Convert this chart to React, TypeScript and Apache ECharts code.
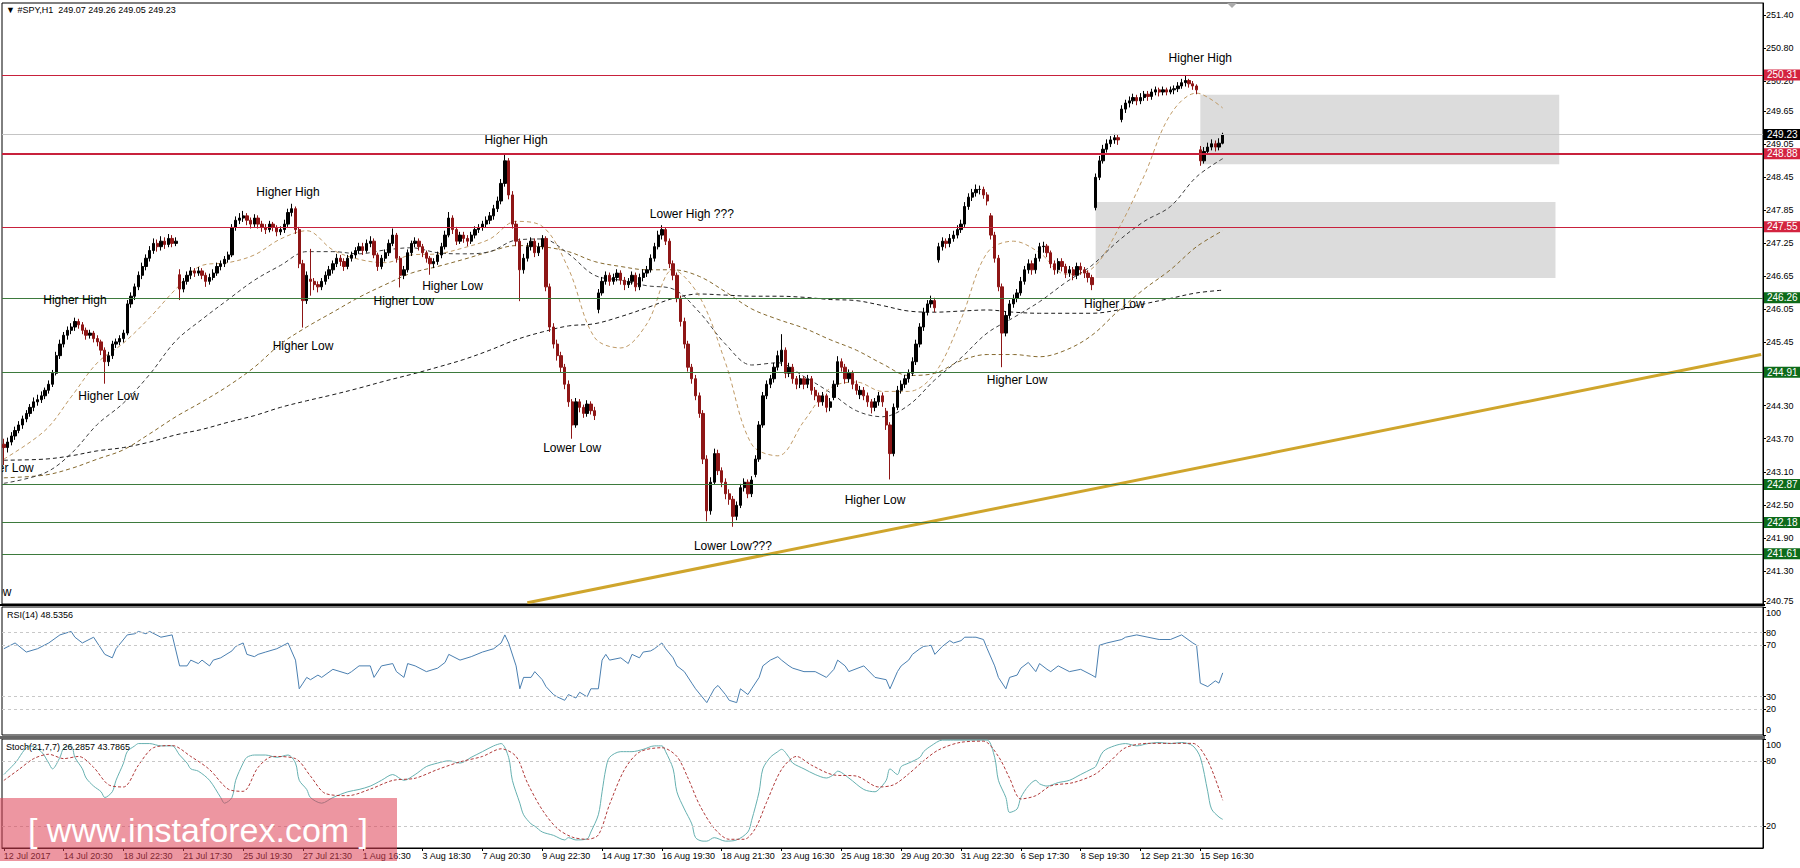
import React, { useEffect, useRef } from 'react';
import * as echarts from 'echarts';

// ---------- DATA ----------
// H1 candles [open, close, low, high], 12 Jul 18:30 .. 15 Sep 22:30 (7 bars/session)
const candles: number[][] = [
  // 12 Jul
  [243.60,243.54,243.22,243.70],[243.54,243.64,243.45,243.72],[243.64,243.75,243.58,243.82],[243.75,243.85,243.68,243.92],[243.85,243.95,243.80,244.02],
  // 13 Jul
  [243.95,244.06,243.88,244.12],[244.06,244.16,244.00,244.22],[244.16,244.27,244.10,244.33],[244.27,244.37,244.20,244.45],[244.37,244.41,244.30,244.50],[244.41,244.48,244.35,244.56],[244.48,244.58,244.42,244.63],
  // 14 Jul
  [244.58,244.69,244.52,244.76],[244.69,244.89,244.64,244.95],[244.89,245.21,244.85,245.28],[245.21,245.42,245.15,245.50],[245.42,245.58,245.36,245.64],[245.58,245.67,245.50,245.74],[245.67,245.73,245.60,245.80],
  // 17 Jul
  [245.73,245.83,245.66,245.90],[245.83,245.77,245.70,245.88],[245.77,245.67,245.60,245.82],[245.67,245.58,245.50,245.72],[245.58,245.62,245.52,245.68],[245.62,245.52,245.45,245.66],[245.52,245.46,245.38,245.58],
  // 18 Jul
  [245.46,245.31,245.22,245.50],[245.31,245.10,244.70,245.36],[245.10,245.21,245.02,245.28],[245.21,245.42,245.15,245.48],[245.42,245.46,245.35,245.52],[245.46,245.52,245.40,245.58],[245.52,245.62,245.45,245.68],
  // 19 Jul
  [245.62,246.15,245.58,246.22],[246.15,246.29,246.08,246.36],[246.29,246.46,246.22,246.52],[246.46,246.67,246.40,246.74],[246.67,246.83,246.60,246.90],[246.83,246.98,246.76,247.05],[246.98,247.12,246.92,247.20],
  // 20 Jul
  [247.12,247.25,247.06,247.34],[247.25,247.19,247.10,247.32],[247.19,247.29,247.12,247.38],[247.29,247.23,247.15,247.36],[247.23,247.34,247.18,247.42],[247.34,247.25,247.18,247.40],[247.25,247.29,247.20,247.36],
  // 21 Jul
  [246.68,246.42,246.22,246.78],[246.42,246.56,246.36,246.62],[246.56,246.67,246.50,246.74],[246.67,246.75,246.60,246.82],[246.75,246.71,246.64,246.80],[246.71,246.75,246.66,246.82],[246.75,246.67,246.60,246.80],
  // 24 Jul
  [246.67,246.56,246.46,246.72],[246.56,246.63,246.50,246.70],[246.63,246.71,246.58,246.78],[246.71,246.83,246.66,246.90],[246.83,246.88,246.76,246.94],[246.88,246.96,246.82,247.02],[246.96,247.04,246.90,247.10],
  // 25 Jul
  [247.04,247.54,247.00,247.60],[247.54,247.67,247.48,247.74],[247.67,247.71,247.60,247.80],[247.71,247.75,247.64,247.84],[247.75,247.67,247.58,247.80],[247.67,247.60,247.52,247.72],[247.60,247.71,247.55,247.78],
  // 26 Jul
  [247.71,247.60,247.52,247.76],[247.60,247.54,247.46,247.66],[247.54,247.50,247.42,247.60],[247.50,247.60,247.45,247.66],[247.60,247.54,247.47,247.64],[247.54,247.46,247.38,247.58],[247.46,247.50,247.40,247.56],
  // 27 Jul
  [247.50,247.60,247.44,247.68],[247.60,247.81,247.55,247.88],[247.81,247.88,247.74,247.97],[247.88,247.50,247.42,247.92],[247.50,246.88,246.80,247.55],[246.88,246.21,245.72,246.95],[246.21,246.67,246.15,246.74],
  // 28 Jul
  [246.60,246.56,246.30,247.15],[246.56,246.50,246.40,246.62],[246.50,246.46,246.36,246.56],[246.46,246.56,246.40,246.62],[246.56,246.67,246.50,246.74],[246.67,246.77,246.60,246.84],[246.77,246.88,246.70,246.94],
  // 31 Jul
  [246.88,246.98,246.82,247.06],[246.98,246.92,246.84,247.04],[246.92,246.83,246.75,246.98],[246.83,246.98,246.78,247.04],[246.98,247.04,246.92,247.10],[247.04,247.12,246.98,247.18],[247.12,247.19,247.06,247.26],
  // 1 Aug
  [247.19,247.12,247.04,247.26],[247.12,247.25,247.08,247.32],[247.25,247.29,247.18,247.38],[247.29,247.04,246.98,247.34],[247.04,246.83,246.75,247.08],[246.83,246.98,246.78,247.04],[246.98,247.08,246.92,247.14],
  // 2 Aug
  [247.08,247.25,247.02,247.32],[247.25,247.40,247.20,247.52],[247.40,246.98,246.90,247.44],[246.98,246.67,246.45,247.02],[246.67,246.77,246.60,246.84],[246.77,247.08,246.72,247.14],[247.08,247.25,247.02,247.30],
  // 3 Aug
  [247.25,247.29,247.18,247.36],[247.29,247.19,247.12,247.34],[247.19,247.08,247.00,247.24],[247.08,246.98,246.90,247.12],[246.98,246.88,246.68,247.02],[246.88,246.92,246.80,246.98],[246.92,247.04,246.86,247.10],
  // 4 Aug
  [247.04,247.19,246.98,247.26],[247.19,247.40,247.14,247.48],[247.40,247.71,247.36,247.82],[247.71,247.50,247.42,247.76],[247.50,247.29,247.22,247.55],[247.29,247.40,247.24,247.46],[247.40,247.34,247.26,247.46],
  // 7 Aug
  [247.34,247.29,247.20,247.40],[247.29,247.40,247.24,247.46],[247.40,247.50,247.34,247.56],[247.50,247.54,247.44,247.60],[247.54,247.60,247.48,247.66],[247.60,247.67,247.54,247.74],[247.67,247.75,247.60,247.82],
  // 8 Aug
  [247.75,247.88,247.68,247.95],[247.88,248.02,247.82,248.10],[248.02,248.34,247.96,248.42],[248.34,248.75,248.28,248.88],[248.75,248.13,248.05,248.80],[248.13,247.60,247.52,248.20],[247.60,247.29,247.20,247.66],
  // 9 Aug
  [247.29,246.77,246.20,247.34],[246.77,246.98,246.70,247.06],[246.98,247.19,246.92,247.26],[247.19,247.29,247.12,247.36],[247.29,247.08,247.00,247.34],[247.08,247.19,247.02,247.26],[247.19,247.34,247.14,247.40],
  // 10 Aug
  [247.34,246.46,246.38,247.38],[246.46,245.73,245.64,246.52],[245.73,245.42,245.34,245.80],[245.42,245.21,245.12,245.50],[245.21,245.00,244.90,245.28],[245.00,244.69,244.60,245.06],[244.69,244.37,244.28,244.76],
  // 11 Aug
  [244.37,243.95,243.70,244.42],[243.95,244.37,243.90,244.44],[244.37,244.27,244.18,244.42],[244.27,244.16,244.08,244.32],[244.16,244.33,244.10,244.40],[244.33,244.21,244.14,244.38],[244.21,244.12,244.04,244.28],
  // 14 Aug
  [246.05,246.35,245.98,246.42],[246.35,246.56,246.30,246.64],[246.56,246.67,246.50,246.74],[246.67,246.56,246.48,246.72],[246.56,246.63,246.50,246.70],[246.63,246.71,246.56,246.78],[246.71,246.58,246.50,246.76],
  // 15 Aug
  [246.58,246.50,246.40,246.64],[246.50,246.56,246.44,246.62],[246.56,246.67,246.50,246.74],[246.67,246.46,246.38,246.72],[246.46,246.63,246.40,246.70],[246.63,246.71,246.56,246.78],[246.71,246.77,246.64,246.84],
  // 16 Aug
  [246.77,246.98,246.72,247.05],[246.98,247.19,246.92,247.26],[247.19,247.40,247.14,247.48],[247.40,247.50,247.32,247.58],[247.50,247.29,247.22,247.54],[247.29,246.88,246.80,247.34],[246.88,246.67,246.58,246.94],
  // 17 Aug
  [246.67,246.25,246.18,246.72],[246.25,245.83,245.74,246.30],[245.83,245.42,245.34,245.90],[245.42,245.00,244.92,245.48],[245.00,244.79,244.70,245.06],[244.79,244.48,244.40,244.86],[244.48,244.16,244.08,244.54],
  // 18 Aug
  [244.16,243.33,243.24,244.22],[243.33,242.39,242.20,243.40],[242.39,242.91,242.32,243.00],[242.91,243.43,242.86,243.52],[243.43,243.12,243.04,243.50],[243.12,242.91,242.82,243.18],[242.91,242.70,242.60,242.98],
  // 21 Aug
  [242.70,242.60,242.50,242.78],[242.60,242.29,242.10,242.66],[242.29,242.49,242.22,242.56],[242.49,242.81,242.44,242.88],[242.81,242.91,242.74,242.98],[242.91,242.70,242.62,242.96],[242.70,242.95,242.64,243.02],
  // 22 Aug
  [243.05,243.33,243.00,243.40],[243.33,243.95,243.28,244.02],[243.95,244.48,243.90,244.55],[244.48,244.69,244.42,244.76],[244.69,244.79,244.62,244.86],[244.79,245.00,244.72,245.08],[245.00,245.21,244.94,245.30],
  // 23 Aug
  [245.10,245.31,245.02,245.60],[245.31,244.89,244.80,245.36],[244.89,245.00,244.82,245.08],[245.00,244.79,244.70,245.06],[244.79,244.69,244.60,244.84],[244.69,244.79,244.62,244.86],[244.79,244.69,244.60,244.84],
  // 24 Aug
  [244.69,244.79,244.62,244.86],[244.79,244.58,244.50,244.84],[244.58,244.48,244.40,244.64],[244.48,244.37,244.28,244.54],[244.37,244.48,244.30,244.55],[244.48,244.27,244.18,244.52],[244.27,244.37,244.20,244.44],
  // 25 Aug
  [244.45,244.69,244.40,244.76],[244.69,245.10,244.64,245.20],[245.10,245.00,244.92,245.16],[245.00,244.79,244.70,245.06],[244.79,244.89,244.72,244.96],[244.89,244.69,244.60,244.94],[244.69,244.58,244.50,244.76],
  // 28 Aug
  [244.50,244.58,244.42,244.66],[244.58,244.48,244.40,244.64],[244.48,244.37,244.28,244.54],[244.37,244.27,244.16,244.42],[244.27,244.37,244.20,244.44],[244.37,244.48,244.30,244.55],[244.48,244.37,244.28,244.54],
  // 29 Aug
  [244.20,243.95,243.86,244.26],[243.95,243.43,242.96,244.00],[243.43,244.27,243.38,244.34],[244.27,244.58,244.22,244.66],[244.58,244.69,244.52,244.76],[244.69,244.79,244.62,244.86],[244.79,244.89,244.72,244.96],
  // 30 Aug
  [244.89,245.10,244.84,245.18],[245.10,245.42,245.04,245.50],[245.42,245.73,245.36,245.80],[245.73,246.00,245.66,246.08],[246.00,246.15,245.94,246.22],[246.15,246.21,246.08,246.30],[246.21,246.08,246.00,246.26],
  // 31 Aug
  [246.95,247.19,246.90,247.26],[247.19,247.29,247.12,247.36],[247.29,247.25,247.16,247.34],[247.25,247.34,247.18,247.42],[247.34,247.40,247.28,247.48],[247.40,247.50,247.34,247.58],[247.50,247.60,247.44,247.68],
  // 1 Sep
  [247.60,247.92,247.55,248.00],[247.92,248.09,247.86,248.16],[248.09,248.17,248.02,248.24],[248.17,248.23,248.10,248.32],[248.23,248.23,248.14,248.30],[248.23,248.13,248.06,248.28],[248.13,248.02,247.94,248.18],
  // 5 Sep
  [247.75,247.40,247.32,247.80],[247.40,246.98,246.90,247.46],[246.98,246.46,246.38,247.04],[246.46,245.62,245.00,246.52],[245.62,245.94,245.56,246.02],[245.94,246.15,245.88,246.22],[246.15,246.25,246.08,246.32],
  // 6 Sep
  [246.25,246.35,246.18,246.42],[246.35,246.56,246.30,246.64],[246.56,246.77,246.50,246.84],[246.77,246.88,246.70,246.96],[246.88,246.77,246.68,246.94],[246.77,246.98,246.70,247.06],[246.98,247.19,246.92,247.26],
  // 7 Sep
  [247.19,247.20,247.08,247.28],[247.20,247.08,247.00,247.24],[247.08,246.88,246.80,247.12],[246.88,246.77,246.68,246.94],[246.77,246.92,246.70,246.98],[246.92,246.83,246.74,246.98],[246.83,246.71,246.62,246.88],
  // 8 Sep
  [246.71,246.77,246.64,246.84],[246.77,246.67,246.58,246.82],[246.67,246.83,246.60,246.90],[246.83,246.77,246.68,246.90],[246.77,246.71,246.62,246.82],[246.71,246.63,246.54,246.76],[246.63,246.50,246.40,246.68],
  // 11 Sep
  [247.90,248.45,247.85,248.52],[248.45,248.75,248.40,248.84],[248.75,248.96,248.70,249.04],[248.96,249.06,248.90,249.14],[249.06,249.13,249.00,249.20],[249.13,249.17,249.06,249.24],[249.17,249.13,249.04,249.22],
  // 12 Sep
  [249.50,249.69,249.45,249.76],[249.69,249.80,249.62,249.86],[249.80,249.84,249.72,249.92],[249.84,249.90,249.78,249.97],[249.90,249.84,249.76,249.95],[249.84,249.90,249.78,249.98],[249.90,249.96,249.84,250.02],
  // 13 Sep
  [249.96,249.92,249.84,250.02],[249.92,250.00,249.86,250.06],[250.00,250.04,249.94,250.10],[250.04,250.00,249.92,250.08],[250.00,250.04,249.94,250.10],[250.04,250.00,249.94,250.08],[250.00,250.04,249.96,250.10],
  // 14 Sep
  [250.04,250.06,249.96,250.12],[250.06,250.11,250.00,250.18],[250.11,250.17,250.06,250.24],[250.17,250.21,250.10,250.31],[250.21,250.15,250.08,250.24],[250.15,250.11,250.04,250.20],[250.11,250.04,249.96,250.14],
  // 15 Sep
  [248.95,248.75,248.66,249.02],[248.75,248.92,248.70,249.00],[248.92,249.00,248.86,249.08],[249.00,249.06,248.94,249.14],[249.06,249.00,248.92,249.12],[249.00,249.07,248.94,249.16],[249.07,249.23,249.05,249.26],
];

// Moving averages read at each session's last bar (first sample at bar 0)
const ma20 = [243.33,243.85,244.46,245.08,245.44,245.90,246.42,246.85,246.90,247.04,247.33,247.48,247.13,246.96,246.90,247.04,247.06,247.17,247.33,247.65,247.56,246.79,245.54,245.35,245.79,246.77,246.29,245.08,243.60,243.39,244.02,244.62,244.73,244.56,244.56,244.89,245.87,247.08,247.29,247.08,246.69,246.79,247.50,248.48,249.59,249.98,249.71];
const ma50 = [242.89,243.08,243.43,243.96,244.35,244.87,245.48,245.87,246.23,246.58,246.85,247.10,247.10,247.06,247.13,247.17,247.08,247.06,247.10,247.31,247.33,247.06,246.67,246.58,246.48,246.42,246.00,245.42,245.04,245.08,244.83,244.54,244.21,244.10,244.31,244.77,245.17,245.62,245.90,246.19,246.54,246.85,247.29,247.65,247.92,248.46,248.79];
const ma100 = [242.99,243.04,243.16,243.33,243.50,243.79,244.10,244.37,244.66,245.00,245.42,245.73,246.00,246.27,246.50,246.71,246.83,246.96,247.10,247.21,247.19,247.10,246.92,246.83,246.77,246.77,246.65,246.37,246.06,245.87,245.71,245.50,245.31,245.06,244.85,244.89,245.12,245.23,245.23,245.19,245.31,245.58,246.02,246.42,246.77,247.19,247.48];
const ma200 = [243.31,243.33,243.39,243.48,243.54,243.64,243.77,243.87,244.00,244.12,244.27,244.39,244.50,244.62,244.75,244.87,245.00,245.14,245.31,245.50,245.64,245.75,245.79,245.92,246.08,246.25,246.33,246.31,246.29,246.29,246.27,246.23,246.21,246.12,246.02,246.00,246.02,246.04,246.00,245.98,245.98,245.98,246.04,246.15,246.25,246.35,246.40];

// RSI(14): bar index + value
const rsiIdx = [0,3,6,9,12,15,18,19,21,24,27,29,30,33,35,36,38,39,42,45,47,49,50,52,53,55,56,58,61,62,64,65,67,68,70,73,76,78,79,80,81,82,84,85,88,92,93,95,98,99,101,104,105,107,108,110,113,116,118,119,122,125,128,131,133,134,135,137,138,139,141,142,144,145,147,148,150,151,153,154,156,157,159,160,161,162,165,167,168,170,171,173,174,176,177,179,180,182,184,185,187,188,190,191,193,194,196,197,199,200,202,203,205,207,208,210,211,214,217,220,222,223,225,226,230,233,236,237,239,240,242,243,245,246,248,249,251,253,254,256,257,259,260,262,263,265,266,268,269,271,272,274,276,277,279,280,282,285,288,291,292,293,295,299,300,303,306,309,312,315,318,319,320,322,324,325,326];
const rsiVal = [67.4,71.9,64.8,67.4,71.9,78.2,80.9,76.4,71.9,76.4,63.0,60.3,67.4,78.2,79.1,80.9,79.1,80.9,76.4,78.2,54.0,54.0,58.5,55.8,58.5,54.0,58.5,60.3,65.7,69.2,71.9,63.0,61.2,63.0,64.8,67.4,71.9,58.5,36.1,40.5,45.0,43.2,46.8,45.0,51.3,47.7,49.5,54.0,54.0,45.0,54.0,55.8,49.5,45.0,55.8,54.0,49.5,52.2,56.7,63.0,58.5,61.2,64.8,67.4,71.9,78.2,71.9,54.0,36.1,45.0,45.0,49.5,43.2,37.8,31.6,29.8,27.1,31.6,28.9,33.4,29.8,36.1,36.1,58.5,63.0,58.5,60.3,55.8,63.0,60.3,64.8,65.7,67.4,71.9,67.4,60.3,54.0,49.5,40.5,36.1,28.9,25.3,36.1,38.7,31.6,27.1,25.3,36.1,31.6,36.1,45.0,54.0,58.5,61.2,58.5,54.0,52.2,49.5,49.5,45.0,51.3,58.5,54.0,49.5,54.0,45.0,43.2,36.1,49.5,54.0,58.5,63.0,67.4,69.2,70.1,63.0,69.2,73.7,71.9,73.7,76.4,76.4,76.4,74.6,67.4,54.0,45.0,36.1,45.0,46.8,52.2,56.7,49.5,55.8,51.3,49.5,54.0,49.5,51.3,46.8,45.0,70.1,71.9,74.6,76.4,78.2,76.4,74.6,74.6,78.2,71.9,70.1,40.5,37.8,42.3,40.5,48.5356];

// Stochastic(21,7,7) main and signal
const stKIdx = [0,3,7,10,12,13,15,16,18,19,21,22,24,26,27,29,30,32,33,35,36,39,42,45,47,49,50,52,55,58,59,61,62,64,65,67,70,73,76,78,79,81,82,85,88,92,95,98,101,104,107,110,113,116,119,122,125,128,131,133,135,136,138,139,141,142,144,147,150,151,153,156,157,159,160,161,162,165,168,171,174,176,177,179,180,182,184,185,187,188,190,193,196,199,200,202,203,205,207,208,210,211,214,217,220,222,223,226,230,233,234,236,237,239,240,242,245,246,248,251,254,257,260,263,265,266,268,269,271,272,274,276,277,279,282,285,288,291,292,294,297,300,303,306,309,312,315,318,320,322,323,325,326];
const stKVal = [67.4,77.9,93.7,88.4,77.9,72.6,83.2,91.6,93.7,83.2,72.6,64.2,56.8,51.6,46.3,51.6,62.1,77.9,88.4,93.7,95.8,95.8,93.7,93.7,85.3,77.9,72.6,70.5,62.1,46.3,41.1,46.3,62.1,77.9,83.2,85.3,85.3,83.2,85.3,77.9,62.1,53.7,46.3,41.1,46.3,51.6,53.7,56.8,62.1,67.4,62.1,67.4,74.7,77.9,80.0,77.9,83.2,88.4,93.7,95.8,83.2,62.1,41.1,30.5,22.1,20.0,14.7,11.6,7.4,9.5,7.4,8.4,14.7,30.5,51.6,72.6,83.2,88.4,88.4,90.5,93.7,93.7,88.4,72.6,51.6,35.8,22.1,9.5,6.3,6.3,9.5,6.3,7.4,14.7,25.3,51.6,72.6,83.2,88.4,90.5,83.2,77.9,72.6,67.4,64.2,67.4,70.5,64.2,53.7,51.6,53.7,62.1,72.6,67.4,74.7,77.9,83.2,88.4,93.7,99,99,99,99,99,83.2,62.1,46.3,32.6,35.8,46.3,56.8,62.1,58.9,56.8,60.0,62.1,67.4,72.6,74.7,88.4,93.7,95.8,93.7,95.8,96.8,95.8,96.8,93.7,83.2,51.6,35.8,28.4,26.2857];
const stDIdx = [0,4,8,12,16,20,24,28,32,36,40,45,50,55,60,64,68,72,78,82,86,92,98,104,110,116,122,128,133,137,140,144,148,152,156,159,162,166,170,176,180,183,186,190,194,198,201,204,208,212,216,222,228,234,238,242,246,250,256,262,266,269,272,276,280,286,292,296,300,306,312,318,322,326];
const stDVal = [62,72,82,86,82,84,74,58,56,76,92,94,84,72,54,52,74,84,82,66,50,48,54,62,64,72,79,84,91,84,60,35,18,10,8,12,40,72,88,92,84,64,40,18,8,8,18,42,72,84,76,67,66,56,58,68,80,90,97,98,84,64,45,48,57,60,68,80,92,96,96,96,80,43.7865];

// Axis tick labels
const xLabels = ['12 Jul 2017','14 Jul 20:30','18 Jul 22:30','21 Jul 17:30','25 Jul 19:30','27 Jul 21:30','1 Aug 16:30','3 Aug 18:30','7 Aug 20:30','9 Aug 22:30','14 Aug 17:30','16 Aug 19:30','18 Aug 21:30','23 Aug 16:30','25 Aug 18:30','29 Aug 20:30','31 Aug 22:30','6 Sep 17:30','8 Sep 19:30','12 Sep 21:30','15 Sep 16:30'];
const priceTicks = [251.40,250.80,250.20,249.65,249.05,248.45,247.85,247.25,246.65,246.05,245.45,244.30,243.70,243.10,242.50,241.90,241.30,240.75];
const rsiTicks = [0,20,30,70,80,100];
const rsiLevels = [80,70,30,20];
const stochTicks = [20,80,100];
const stochLevels = [80,20];

// Horizontal levels
const resistanceLevels = [250.31, 248.88, 247.55];
const keyLevel = 248.88;
const supportLevels = [246.26, 244.91, 242.87, 242.18, 241.61];
const lastPrice = 249.23;

// Zones [bar from, bar to], [price top, price bottom]
const zoneBars = [[320, 416], [292, 415]];
const zonePrices = [[249.95, 248.69], [248.00, 246.62]];

// Trend line (bar, price)
const trendBars = [140, 470];
const trendPrices = [240.72, 245.23];

// Text annotations (bar, price)
const annText = ['Higher Low','Higher High','Higher Low','Higher High','Higher Low','Higher Low','Higher Low','Higher High','Lower Low','Lower High ???','Lower Low???','Higher Low','Higher Low','Higher Low','Higher High','Lower Low'];
const annBar = [8,19,28,76,80,107,120,137,152,184,195,233,271,297,320,2];
const annPrice = [243.16,246.23,244.48,248.19,245.39,246.21,246.48,249.13,243.54,247.79,241.76,242.58,244.77,246.15,250.61,240.91];

const headerText = '▼ #SPY,H1  249.07 249.26 249.05 249.23';
const rsiTitle = 'RSI(14) 48.5356';
const stochTitle = 'Stoch(21,7,7) 26.2857 43.7865';
const watermark = '[ www.instaforex.com ]';

// ---------- LAYOUT ----------
const W = 1800, H = 868;
const SLOTS = 471;          // bars + right shift
const LABEL_STEP = 16;
const PLOT_L = 2, PLOT_W = 1761;
const annAlignRight = new Set([0, 15]);
const FONT = '"Liberation Sans", Arial, sans-serif';
const SMALL = 9;

function maSamples(arr: number[]) {
  return arr.map((v, d) => [d === 0 ? 0 : 4 + 7 * d, v]);
}

function buildOption(): any {
  const cats = Array.from({ length: SLOTS }, (_, i) => String(i));
  const labelInterval = (idx: number) => idx % LABEL_STEP === 0 && idx / LABEL_STEP < xLabels.length;
  const red = '#c8213c', redBg = '#d3233f', green = '#3d7a3d', greenBg = '#0d6b1a';
  const lvlLabel = (bg: string) => ({
    show: true, position: 'end', distance: 1, color: '#fff', backgroundColor: bg,
    padding: [1, 3, 0, 3], fontSize: 10, fontFamily: FONT,
    formatter: (p: any) => Number(p.value).toFixed(2),
  });
  const markLineData: any[] = [];
  resistanceLevels.forEach((v) => markLineData.push({
    yAxis: v, lineStyle: { color: red, width: v === keyLevel ? 2 : 1, type: 'solid' }, label: lvlLabel(redBg),
  }));
  supportLevels.forEach((v) => markLineData.push({
    yAxis: v, lineStyle: { color: green, width: 1, type: 'solid' }, label: lvlLabel(greenBg),
  }));
  markLineData.push({ yAxis: lastPrice, lineStyle: { color: '#c4c4c4', width: 1, type: 'solid' }, label: lvlLabel('#000') });

  const xAxisBase = (gi: number, showLabels: boolean) => ({
    type: 'category', gridIndex: gi, data: cats, boundaryGap: true,
    axisLine: { show: showLabels, lineStyle: { color: '#000' } },
    axisTick: { show: showLabels, interval: labelInterval, alignWithLabel: true, length: 3, lineStyle: { color: '#000' } },
    axisLabel: {
      show: showLabels, interval: labelInterval, align: 'left', margin: 3, color: '#000', fontSize: SMALL, fontFamily: FONT,
      formatter: (_v: string, idx: number) => xLabels[idx / LABEL_STEP] ?? '',
    },
    splitLine: { show: false },
  });
  const edgeRich = {
    dn: { padding: [11, 0, 0, 0], fontSize: SMALL, color: '#000', fontFamily: FONT },
    up: { padding: [0, 0, 11, 0], fontSize: SMALL, color: '#000', fontFamily: FONT },
  };
  const yAxisBase = (gi: number, min: number, max: number, ticks: number[], fmt: (v: number) => string) => ({
    type: 'value', gridIndex: gi, position: 'right', min, max,
    axisLine: { show: true, lineStyle: { color: '#000' } },
    axisTick: { show: true, length: 3, customValues: ticks, lineStyle: { color: '#000' } },
    axisLabel: { show: true, customValues: ticks, formatter: fmt, color: '#000', fontSize: SMALL, fontFamily: FONT, margin: 3, rich: edgeRich },
    splitLine: { show: false },
  });
  const edgeFmt = (v: number) => (v === 100 ? '{dn|100}' : v === 0 ? '{up|0}' : String(v));
  const levelLines = (lv: number[]) => ({
    silent: true, symbol: ['none', 'none'], label: { show: false },
    lineStyle: { color: '#c8c8c8', type: [3, 3], width: 1 },
    data: lv.map((v) => ({ yAxis: v })),
  });

  const maSeries = (name: string, arr: number[], color: string) => ({
    name, type: 'line', xAxisIndex: 0, yAxisIndex: 0, data: maSamples(arr), symbol: 'none', smooth: 0.35,
    lineStyle: { color, width: 1, type: [4, 3] }, z: 3, silent: true,
  });

  return {
    animation: false,
    backgroundColor: '#fff',
    textStyle: { fontFamily: FONT },
    grid: [
      { left: PLOT_L, top: 3, width: PLOT_W, height: 601, show: true, borderColor: '#000', borderWidth: 1, containLabel: false, outerBoundsMode: 'none' },
      { left: PLOT_L, top: 607, width: PLOT_W, height: 128, show: true, borderColor: '#000', borderWidth: 1, containLabel: false, outerBoundsMode: 'none' },
      { left: PLOT_L, top: 739, width: PLOT_W, height: 109, show: true, borderColor: '#000', borderWidth: 1, containLabel: false, outerBoundsMode: 'none' },
    ],
    xAxis: [xAxisBase(0, false), xAxisBase(1, false), xAxisBase(2, true)],
    yAxis: [
      yAxisBase(0, 240.697, 251.618, priceTicks, (v) => v.toFixed(2)),
      yAxisBase(1, 0, 100, rsiTicks, edgeFmt),
      yAxisBase(2, 0, 100, stochTicks, edgeFmt),
    ],
    series: [
      {
        name: 'zones', type: 'line', xAxisIndex: 0, yAxisIndex: 0, data: [], z: 0, silent: true,
        markArea: {
          silent: true, itemStyle: { color: 'rgba(196,196,196,0.6)' },
          data: zoneBars.map((b, k) => [{ xAxis: b[0], yAxis: zonePrices[k][0] }, { xAxis: b[1], yAxis: zonePrices[k][1] }]),
        },
      },
      maSeries('SMA200', ma200, '#1a1a1a'),
      maSeries('SMA100', ma100, '#85692e'),
      maSeries('SMA50', ma50, '#3e3e3e'),
      maSeries('SMA20', ma20, '#bf9a66'),
      {
        name: 'trend', type: 'line', xAxisIndex: 0, yAxisIndex: 0, symbol: 'none', silent: true, z: 4,
        data: trendBars.map((b, k) => [b, trendPrices[k]]),
        lineStyle: { color: '#cfa52c', width: 3 },
      },
      {
        name: 'SPY', type: 'candlestick', xAxisIndex: 0, yAxisIndex: 0, data: candles, barWidth: 2.8, z: 5, silent: true,
        itemStyle: { color: '#000', color0: '#8e1616', borderColor: '#000', borderColor0: '#8e1616', borderWidth: 1 },
        markLine: { silent: true, symbol: ['none', 'none'], precision: 2, data: markLineData, z: 6 },
      },
      {
        name: 'notes', type: 'custom', xAxisIndex: 0, yAxisIndex: 0, clip: true, silent: true, z: 7,
        data: annBar.map((b, k) => [b, annPrice[k]]),
        renderItem: (params: any, api: any) => {
          const k = params.dataIndex;
          const pt = api.coord([api.value(0), api.value(1)]);
          return {
            type: 'text', x: pt[0], y: pt[1],
            style: {
              text: annText[k], fill: '#000', font: '12px "Liberation Sans", Arial, sans-serif',
              align: annAlignRight.has(k) ? 'right' : 'center', verticalAlign: 'middle',
            },
          };
        },
      },
      {
        name: 'RSI', type: 'line', xAxisIndex: 1, yAxisIndex: 1, symbol: 'none', silent: true,
        data: rsiIdx.map((b, k) => [b, rsiVal[k]]),
        lineStyle: { color: '#4a7fb0', width: 1 },
        markLine: levelLines(rsiLevels),
      },
      {
        name: 'StochMain', type: 'line', xAxisIndex: 2, yAxisIndex: 2, symbol: 'none', silent: true, smooth: 0.3,
        data: stKIdx.map((b, k) => [b, stKVal[k]]),
        lineStyle: { color: '#66b0b0', width: 1 },
        markLine: levelLines(stochLevels),
      },
      {
        name: 'StochSignal', type: 'line', xAxisIndex: 2, yAxisIndex: 2, symbol: 'none', silent: true, smooth: 0.3,
        data: stDIdx.map((b, k) => [b, stDVal[k]]),
        lineStyle: { color: '#b03a3a', width: 1, type: [3, 2] },
      },
    ],
    graphic: [
      { type: 'rect', shape: { x: 0, y: 604, width: 1765, height: 2 }, style: { fill: '#000' }, silent: true, z: 50 },
      { type: 'rect', shape: { x: 0, y: 736, width: 1765, height: 3 }, style: { fill: '#666' }, silent: true, z: 50 },
      { type: 'polygon', shape: { points: [[1227, 3], [1237, 3], [1232, 8]] }, style: { fill: '#aaa' }, silent: true, z: 50 },
      { type: 'text', x: 6, y: 5, style: { text: headerText, fill: '#000', font: SMALL + 'px ' + FONT }, silent: true, z: 50 },
      { type: 'text', x: 7, y: 610, style: { text: rsiTitle, fill: '#000', font: SMALL + 'px ' + FONT }, silent: true, z: 50 },
      { type: 'text', x: 6, y: 742, style: { text: stochTitle, fill: '#000', font: SMALL + 'px ' + FONT }, silent: true, z: 50 },
      { type: 'rect', shape: { x: 0, y: 798, width: 397, height: 63 }, style: { fill: 'rgba(222,64,84,0.55)' }, silent: true, z: 60 },
      { type: 'text', x: 198, y: 830, style: { text: watermark, fill: '#fff', font: '34px "Liberation Sans", Arial, sans-serif', align: 'center', verticalAlign: 'middle' }, silent: true, z: 61 },
    ],
  };
}

export default function App() {
  const ref = useRef<HTMLDivElement>(null);
  useEffect(() => {
    if (!ref.current) return;
    const chart = echarts.init(ref.current, null, { renderer: 'svg', width: W, height: H });
    chart.setOption(buildOption());
    return () => chart.dispose();
  }, []);
  return <div ref={ref} style={{ position: 'fixed', left: 0, top: 0, width: W, height: H, background: '#fff' }} />;
}
